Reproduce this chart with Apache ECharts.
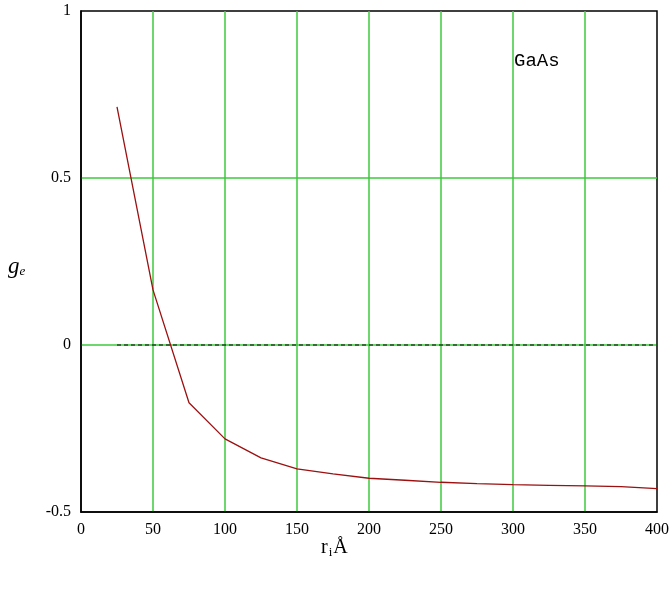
<!DOCTYPE html>
<html><head><meta charset="utf-8">
<script src="https://cdn.jsdelivr.net/npm/echarts@6/dist/echarts.min.js"></script>
<style>html,body{margin:0;padding:0;background:#fff}#c{width:672px;height:589px}</style>
</head><body><div id="c"></div>
<script>
const xValues = [25, 50, 75, 100, 125, 150, 175, 200, 225, 250, 275, 300, 325, 350, 375, 400];
const geValues = [0.713, 0.165, -0.173, -0.281, -0.338, -0.371, -0.386, -0.399, -0.405, -0.411, -0.415, -0.418, -0.420, -0.422, -0.424, -0.430];
const zeroValues = [0, 0, 0, 0, 0, 0, 0, 0, 0, 0, 0, 0, 0, 0, 0, 0];
const xTicks = [0, 50, 100, 150, 200, 250, 300, 350, 400];
const yTicks = [-0.5, 0, 0.5, 1];
const annotation = 'GaAs';

const chart = echarts.init(document.getElementById('c'), null, {renderer: 'canvas'});
const fontFam = '"Liberation Serif", "DejaVu Serif", serif';
chart.setOption({
  animation: false,
  backgroundColor: '#fff',
  grid: {left: 81, top: 11, right: 14, bottom: 77, show: true, borderColor: '#000', borderWidth: 1.5, backgroundColor: 'transparent'},
  xAxis: {
    type: 'value', min: xTicks[0], max: xTicks[xTicks.length - 1], interval: 50,
    axisLine: {show: true, onZero: false, lineStyle: {color: '#000', width: 1.5}},
    axisTick: {show: false},
    splitLine: {show: true, showMinLine: false, showMaxLine: false, lineStyle: {color: '#3cc83c', width: 1.5}},
    axisLabel: {color: '#000', fontFamily: fontFam, fontSize: 16, margin: 10}
  },
  yAxis: {
    type: 'value', min: yTicks[0], max: yTicks[yTicks.length - 1], interval: 0.5,
    axisLine: {show: true, onZero: false, lineStyle: {color: '#000', width: 1.5}},
    axisTick: {show: false},
    splitLine: {show: true, showMinLine: false, showMaxLine: false, lineStyle: {color: '#3cc83c', width: 1.5}},
    axisLabel: {color: '#000', fontFamily: fontFam, fontSize: 16, margin: 10}
  },
  graphic: [
    {type: 'text', left: 8, top: 255, style: {
      text: '{g|g}{s|e}', rich: {
        g: {fontFamily: fontFam, fontStyle: 'italic', fontSize: 23, fill: '#000'},
        s: {fontFamily: fontFam, fontStyle: 'italic', fontSize: 13, fill: '#000', padding: [10, 0, 0, 0]}
      }}},
    {type: 'text', left: 321, top: 538, style: {
      text: '{r|r}{s|i}{r|Å}', rich: {
        r: {fontFamily: fontFam, fontSize: 20, fill: '#000'},
        s: {fontFamily: fontFam, fontSize: 13, fill: '#000', padding: [9, 1, 0, 1]}
      }}},
    {type: 'text', left: 514, top: 51, style: {
      text: annotation, fontFamily: '"Liberation Mono", "DejaVu Sans Mono", monospace', fontSize: 19, fill: '#000'}}
  ],
  series: [
    {type: 'line', data: xValues.map((x, i) => [x, zeroValues[i]]), symbol: 'none',
      lineStyle: {color: '#000', width: 1, type: [4, 3]}, z: 3},
    {type: 'line', data: xValues.map((x, i) => [x, geValues[i]]), symbol: 'none',
      lineStyle: {color: '#9b1010', width: 1.3}, z: 4}
  ]
});
</script></body></html>
